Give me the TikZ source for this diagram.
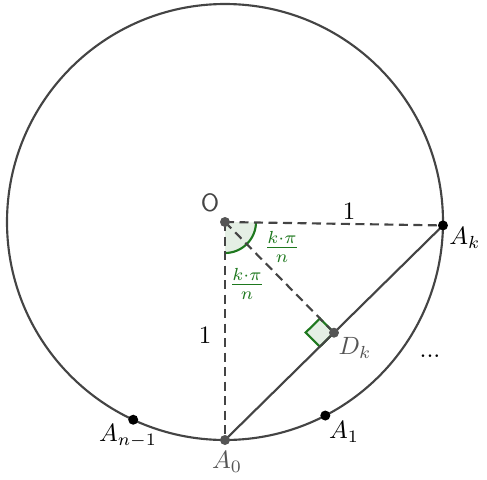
\documentclass[tikz,border=0pt]{standalone}
\usetikzlibrary{math,calc,angles}
\definecolor{anglegreen}{RGB}{30,120,30}
\definecolor{linegray}{RGB}{68,68,68}
\definecolor{pointgray}{RGB}{85,85,85}

\begin{document}
\begin{tikzpicture}[x=0.4pt,y=0.4pt,
    circ/.style={draw=linegray, line width=0.85pt},
    dashseg/.style={draw=linegray, line width=0.85pt, dash pattern=on 3.6pt off 2.2pt},
    dot/.style={fill=black},
    greydot/.style={fill=pointgray},
    lbl/.style={inner sep=0pt},
    anglelbl/.style={text=anglegreen, inner sep=0pt, font=\normalsize}]
  \useasboundingbox (0,0) rectangle (487,-480);
  \tikzmath{
    % ------------------------
    % the points on the circle
    % ------------------------
    \rad=218; % the radius
    \angzero=-90; % A_0
    \angk=-0.9; % A_k
    \angone=-62.6; % A_1
    \angprev=-114.9; % A_{n-1}
    \side=8; % the right angle mark
  }
  \coordinate (O) at (225,-222);
  \coordinate (A0) at ($(O)+(\angzero:\rad)$);
  \coordinate (Ak) at ($(O)+(\angk:\rad)$);
  \coordinate (A1) at ($(O)+(\angone:\rad)$);
  \coordinate (An) at ($(O)+(\angprev:\rad)$);
  \coordinate (Dk) at ($(A0)!0.5!(Ak)$);
  % the circle
  \draw[circ] (O) circle (\rad);
  % the angle at O
  \pic[draw=anglegreen, fill=anglegreen!12, line width=0.85pt, angle radius=12.4pt]
    {angle=A0--O--Ak};
  % the right angle at D_k
  \coordinate (S1) at ($(Dk)!\side pt!(O)$);
  \coordinate (S2) at ($(Dk)!\side pt!(A0)$);
  \coordinate (S3) at ($(S1)+(S2)-(Dk)$);
  \draw[draw=anglegreen, fill=anglegreen!12, line width=0.85pt]
    (Dk) -- (S1) -- (S3) -- (S2) -- cycle;
  % the segments
  \draw[dashseg] (O) -- (Ak);
  \draw[dashseg] (O) -- (A0);
  \draw[dashseg] (O) -- (Dk);
  \draw[circ] (A0) -- (Ak);
  % the points
  \fill[greydot] (O) circle (2pt);
  \fill[greydot] (A0) circle (2pt);
  \fill[greydot] (Dk) circle (2pt);
  \fill[dot] (Ak) circle (2pt);
  \fill[dot] (A1) circle (2pt);
  \fill[dot] (An) circle (2pt);
  % the labels
  \node[lbl, text=linegray, font=\sffamily] (lblO) at (210,-203) {O};
  \node[lbl] (lblAk) at (465,-238) {$A_k$};
  \node[lbl, text=pointgray] (lblDk) at (355,-348) {$D_k$};
  \node[lbl, text=pointgray] (lblAzero) at (227,-462) {$A_0$};
  \node[lbl] (lblAone) at (344,-432) {$A_1$};
  \node[lbl] (lblAprev) at (128,-436) {$A_{n-1}$};
  \node[lbl] (lblradk) at (349,-211) {$1$};
  \node[lbl] (lblradzero) at (205,-335) {$1$};
  \node[anglelbl] (lblangk) at (282,-247) {$\frac{k\cdot\pi}{n}$};
  \node[anglelbl] (lblangzero) at (247,-284) {$\frac{k\cdot\pi}{n}$};
  \node[lbl] (lbldots) at (430,-356) {...};
\end{tikzpicture}
\end{document}
